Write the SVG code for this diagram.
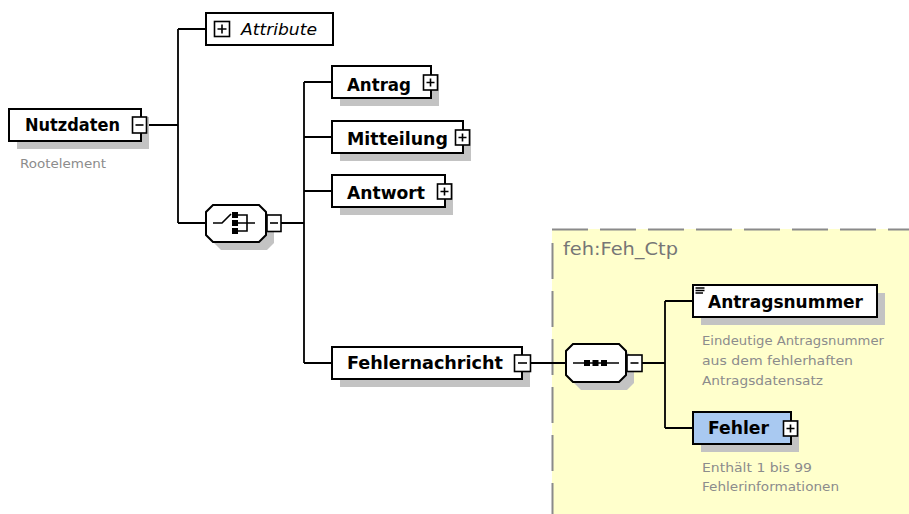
<svg xmlns="http://www.w3.org/2000/svg" width="909" height="514" viewBox="0 0 909 514">
  <style>
    .box { fill: #ffffff; stroke: #000000; stroke-width: 2; }
    .box-blue { fill: #a9c9f1; stroke: #000000; stroke-width: 2; }
    .shadow { fill: #c3c3c3; stroke: none; }
    .btn { fill: #ffffff; stroke: #000000; stroke-width: 1.6; }
    .sign { stroke: #000000; stroke-width: 1.6; fill: none; }
    .wire { stroke: #000000; stroke-width: 1.8; fill: none; }
    .label { font-family: "DejaVu Sans", Verdana, sans-serif; font-weight: bold; font-size: 17.5px; fill: #000000; }
    .attr { font-family: "DejaVu Sans", Verdana, sans-serif; font-style: italic; font-size: 16.5px; fill: #000000; }
    .note { font-family: "DejaVu Sans", Verdana, sans-serif; font-size: 13px; fill: #8c8c8c; }
    .type { font-family: "DejaVu Sans", Verdana, sans-serif; font-size: 17px; fill: #767676; }
    .icon { fill: #000000; stroke: none; }
  </style>

  <!-- complex type area -->
  <g id="type-feh-ctp">
    <rect x="552" y="229" width="357" height="285" fill="#ffffcc"/>
    <line x1="552" y1="229.5" x2="909" y2="229.5" stroke="#8a8a8a" stroke-width="2" stroke-dasharray="36 12"/>
    <line x1="552.5" y1="243" x2="552.5" y2="514" stroke="#8a8a8a" stroke-width="2" stroke-dasharray="36 12"/>
    <text class="type" x="563" y="255" textLength="115" lengthAdjust="spacingAndGlyphs">feh:Feh_Ctp</text>
  </g>

  <!-- connectors -->
  <g id="connectors">
    <path class="wire" d="M147,125 H178 M178,29 V223 M178,29 H206 M178,223 H206"/>
    <path class="wire" d="M281,223 H304 M304,82 V363 M304,82 H332 M304,137 H332 M304,191 H332 M304,363 H332"/>
    <path class="wire" d="M531,363 H566 M642,363 H665 M665,301 V428 M665,301 H693 M665,428 H693"/>
  </g>

  <!-- root element -->
  <g id="node-nutzdaten">
    <rect class="shadow" x="17" y="117" width="132" height="32"/>
    <rect class="box" x="9" y="109" width="132" height="32"/>
    <text class="label" x="25" y="131" textLength="95" lengthAdjust="spacingAndGlyphs">Nutzdaten</text>
    <rect class="btn" x="132.5" y="117" width="14" height="16"/>
    <path class="sign" d="M135.5,125 H143.5"/>
    <text class="note" x="20" y="168" textLength="86" lengthAdjust="spacingAndGlyphs">Rootelement</text>
  </g>

  <g id="node-attribute">
    <rect class="box" x="206" y="13" width="127" height="32"/>
    <rect class="btn" x="214.5" y="21.5" width="15" height="15"/>
    <path class="sign" d="M217.5,29 H226.5 M222,24.5 V33.5"/>
    <text class="attr" x="241" y="35" textLength="76" lengthAdjust="spacingAndGlyphs">Attribute</text>
  </g>

  <!-- choice compositor -->
  <g id="node-choice">
    <path class="shadow" d="M221,213 H267 L274,220 V243 L267,250 H221 L214,243 V220 Z"/>
    <path class="box" d="M213,205 H259 L266,212 V235 L259,242 H213 L206,235 V212 Z"/>
    <path class="sign" d="M213,223 H222 L231,214"/>
    <rect class="icon" x="232" y="212" width="6" height="6"/>
    <rect class="icon" x="232" y="220" width="6" height="6"/>
    <rect class="icon" x="232" y="228" width="6" height="6"/>
    <path class="sign" d="M238,215 H247 V231 H238 M238,223 H255"/>
    <rect class="btn" x="267" y="215" width="14" height="16.5"/>
    <path class="sign" d="M270,223 H278"/>
  </g>

  <g id="node-antrag">
    <rect class="shadow" x="340" y="74" width="99" height="32"/>
    <rect class="box" x="332" y="66" width="99" height="32"/>
    <text class="label" x="347" y="91" textLength="64" lengthAdjust="spacingAndGlyphs">Antrag</text>
    <rect class="btn" x="423.5" y="75" width="14" height="15"/>
    <path class="sign" d="M426.5,82.5 H434.5 M430.5,78.5 V86.5"/>
  </g>

  <g id="node-mitteilung">
    <rect class="shadow" x="340" y="129" width="131" height="32"/>
    <rect class="box" x="332" y="121" width="131" height="32"/>
    <text class="label" x="347" y="145" textLength="101" lengthAdjust="spacingAndGlyphs">Mitteilung</text>
    <rect class="btn" x="455.5" y="130" width="14" height="15"/>
    <path class="sign" d="M458.5,137.5 H466.5 M462.5,133.5 V141.5"/>
  </g>

  <g id="node-antwort">
    <rect class="shadow" x="340" y="183" width="113" height="32"/>
    <rect class="box" x="332" y="175" width="113" height="32"/>
    <text class="label" x="347" y="199" textLength="78" lengthAdjust="spacingAndGlyphs">Antwort</text>
    <rect class="btn" x="437.5" y="184" width="14" height="15"/>
    <path class="sign" d="M440.5,191.5 H448.5 M444.5,187.5 V195.5"/>
  </g>

  <g id="node-fehlernachricht">
    <rect class="shadow" x="340" y="355" width="190" height="32"/>
    <rect class="box" x="332" y="347" width="190" height="32"/>
    <text class="label" x="347" y="369" textLength="156" lengthAdjust="spacingAndGlyphs">Fehlernachricht</text>
    <rect class="btn" x="514.5" y="355" width="16" height="16.5"/>
    <path class="sign" d="M518,363 H527"/>
  </g>

  <!-- sequence compositor -->
  <g id="node-sequence">
    <path class="shadow" d="M581,352 H627 L634,359 V383 L627,390 H581 L574,383 V359 Z"/>
    <path class="box" d="M573,344 H619 L626,351 V375 L619,382 H573 L566,375 V351 Z"/>
    <path class="sign" d="M573,363 H619"/>
    <rect class="icon" x="584" y="360" width="6" height="6"/>
    <rect class="icon" x="592.5" y="360" width="6" height="6"/>
    <rect class="icon" x="601" y="360" width="6" height="6"/>
    <rect class="btn" x="627" y="355" width="15" height="16.5"/>
    <path class="sign" d="M630.5,363 H638.5"/>
  </g>

  <g id="node-antragsnummer">
    <rect class="shadow" x="701" y="293" width="184" height="32"/>
    <rect class="box" x="693" y="285" width="184" height="32"/>
    <path class="sign" d="M695.5,288 H704.5 M695.5,290.5 H704.5 M695.5,293 H703" stroke-width="1.2"/>
    <text class="label" x="708" y="308" textLength="155" lengthAdjust="spacingAndGlyphs">Antragsnummer</text>
    <text class="note">
      <tspan x="702" y="345" textLength="182" lengthAdjust="spacingAndGlyphs">Eindeutige Antragsnummer</tspan>
      <tspan x="702" y="365" textLength="151" lengthAdjust="spacingAndGlyphs">aus dem fehlerhaften</tspan>
      <tspan x="702" y="385" textLength="121" lengthAdjust="spacingAndGlyphs">Antragsdatensatz</tspan>
    </text>
  </g>

  <g id="node-fehler">
    <rect class="shadow" x="701" y="420" width="98" height="32"/>
    <rect class="box-blue" x="693" y="412" width="98" height="32"/>
    <text class="label" x="708" y="434" textLength="61" lengthAdjust="spacingAndGlyphs">Fehler</text>
    <rect class="btn" x="783.5" y="421" width="14" height="15"/>
    <path class="sign" d="M786.5,428.5 H794.5 M790.5,424.5 V432.5"/>
    <text class="note">
      <tspan x="702" y="472" textLength="110" lengthAdjust="spacingAndGlyphs">Enthält 1 bis 99</tspan>
      <tspan x="702" y="491" textLength="137" lengthAdjust="spacingAndGlyphs">Fehlerinformationen</tspan>
    </text>
  </g>
</svg>
